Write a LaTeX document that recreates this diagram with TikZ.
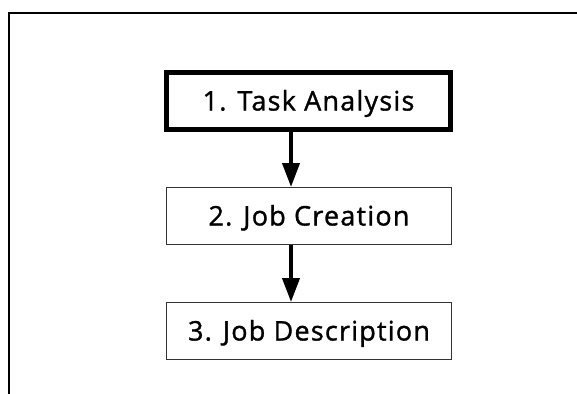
\documentclass[tikz,border=0pt]{standalone}
\usepackage{fontspec}
\setmainfont{Open Sans}[LetterSpace=4.5, FakeBold=1.2]
\usetikzlibrary{arrows.meta}
\tikzset{
  stagebox/.style={draw=black!80, line width=1pt, fill=white,
    minimum width=285pt, minimum height=57pt, inner sep=0pt,
    font=\fontsize{27pt}{31pt}\selectfont,
    text height=19pt, text depth=0pt},
  keybox/.style={stagebox, draw=black, line width=5pt, minimum width=284pt},
  flow/.style={line width=4pt, -{Triangle[width=17pt,length=24pt]}},
  frameline/.style={line width=2.2pt, line cap=rect}
}
\begin{document}
\begin{tikzpicture}[x=1pt, y=-1pt]
  \useasboundingbox (0,0) rectangle (577,393);
  % open frame: top edge and left edge only
  \coordinate (fbl) at (9,393);
  \coordinate (ftl) at (9,13);
  \coordinate (ftr) at (577,13);
  \draw[frameline] (fbl) -- (ftl) -- (ftr);
  % the three stages
  \node[keybox]   (task) at (308.5,101) {1. Task Analysis};
  \node[stagebox] (job)  at (309,216)   {2. Job Creation};
  \node[stagebox] (desc) at (309,331)   {3. Job Description};
  % connectors, set left of the box centres
  \draw[flow] ([xshift=-17.5pt]task.south) -- ([xshift=-18pt]job.north);
  \draw[flow] ([xshift=-18pt]job.south) -- ([xshift=-18pt]desc.north);
\end{tikzpicture}
\end{document}
